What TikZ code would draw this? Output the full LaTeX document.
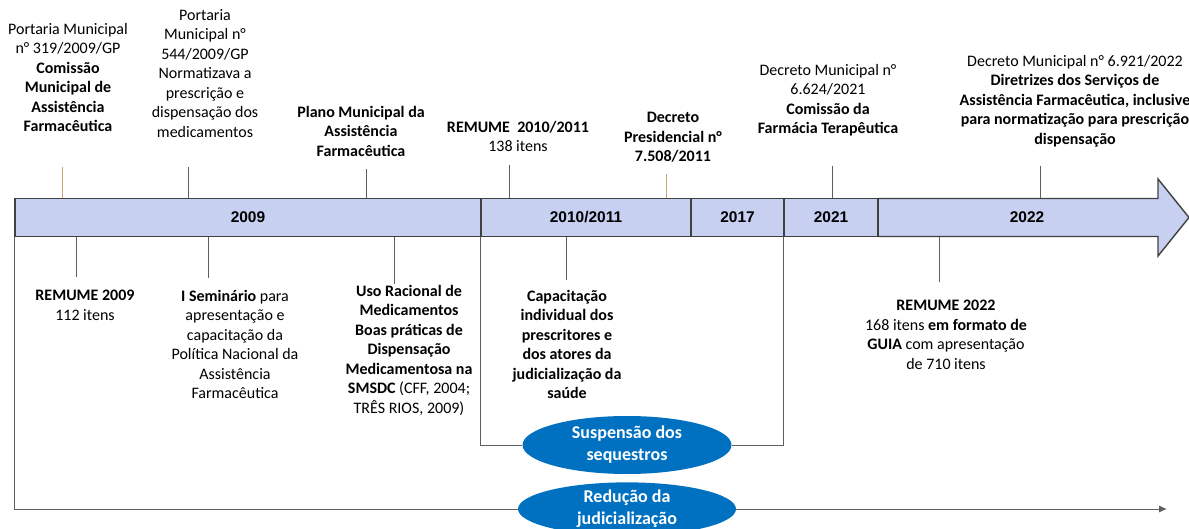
\documentclass[tikz,border=0pt]{standalone}
\usepackage{fontspec}
\setmainfont{Carlito}
\newfontfamily\yearfont{Liberation Sans}
\usetikzlibrary{shapes.geometric, arrows.meta, positioning}

\definecolor{barfill}{RGB}{200,208,242}
\definecolor{baredge}{RGB}{64,64,64}
\definecolor{tickgray}{RGB}{95,95,95}
\definecolor{ticktan}{RGB}{205,165,115}
\definecolor{ovalblue}{RGB}{0,112,192}

\begin{document}
\begin{tikzpicture}[
    x=1pt, y=-1pt,
    seg/.style={rectangle, draw=baredge, line width=1.4pt, fill=barfill, minimum height=38pt, inner sep=0pt, font=\yearfont\bfseries\fontsize{15.5}{18}\selectfont},
    yearlabel/.style={inner sep=0pt, font=\yearfont\bfseries\fontsize{15.5}{18}\selectfont},
    note/.style={align=center, inner sep=0pt, anchor=north, font=\fontsize{16}{19.5}\selectfont},
    tick/.style={draw=tickgray, line width=0.9pt},
    tantick/.style={draw=ticktan, line width=0.9pt},
    oval/.style={ellipse, fill=ovalblue, text=white, align=center, inner sep=0pt, font=\bfseries\fontsize{18}{22}\selectfont},
    bracket/.style={draw=tickgray, line width=0.9pt},
    arrow/.style={bracket, -{Latex[length=8pt, width=7pt]}}
]

\useasboundingbox (0,0) rectangle (1189,529);

% Timeline bar
\path[fill=barfill, draw=baredge, line width=1.4pt]
    (878,198.5) -- (1158,198.5) -- (1158,179) -- (1189,217.5)
    -- (1158,256) -- (1158,236.5) -- (878,236.5) -- cycle;
\node[yearlabel] (y2022) at (1027,217.5) {2022};

\node[seg, minimum width=466pt] (seg2009) at (248,217.5) {2009};
\node[seg, minimum width=210pt] (seg1011) at (586,217.5) {2010/2011};
\node[seg, minimum width=93pt] (seg2017) at (737.5,217.5) {2017};
\node[seg, minimum width=94pt] (seg2021) at (831,217.5) {2021};

% Events above the bar
\node[note] (p319) at (68,23) {Portaria Municipal\\n° 319/2009/GP\\\textbf{Comissão}\\\textbf{Municipal de}\\\textbf{Assistência}\\\textbf{Farmacêutica}};
\node[note] (p544) at (205,9) {Portaria\\Municipal n°\\544/2009/GP\\Normatizava a\\prescrição e\\dispensação dos\\medicamentos};
\node[note, font=\bfseries\fontsize{16}{19.5}\selectfont] (plano) at (361,106) {Plano Municipal da\\Assistência\\Farmacêutica};
\node[note] (rem1011) at (518,121) {\textbf{REMUME\ \ 2010/2011}\\138 itens};
\node[note, font=\bfseries\fontsize{16}{19.5}\selectfont] (decpres) at (673,112) {Decreto\\Presidencial n°\\7.508/2011};
\node[note] (d6624) at (828,64) {Decreto Municipal n°\\6.624/2021\\\textbf{Comissão da}\\\textbf{Farmácia Terapêutica}};
\node[note] (d6921) at (1075,55) {Decreto Municipal n° 6.921/2022\\\textbf{Diretrizes dos Serviços de}\\\textbf{Assistência Farmacêutica, inclusive}\\\textbf{para normatização para prescrição}\\\textbf{dispensação}};

\draw[tantick] (seg2009.north -| 62,0) -- ++(0,-31);
\draw[tick] (seg2009.north -| 188,0) -- ++(0,-31);
\draw[tick] (seg2009.north -| 366,0) -- ++(0,-29);
\draw[tick] (seg1011.north -| 509,0) -- ++(0,-33);
\draw[tantick] (seg1011.north -| 666,0) -- ++(0,-24);
\draw[tick] (seg2021.north -| 832,0) -- ++(0,-32);
\draw[tick] (y2022 |- seg2021.north) ++(13,0) -- ++(0,-32);

% Events below the bar
\node[note] (rem2009) at (85,290) {\textbf{REMUME 2009}\\112 itens};
\node[note] (semin) at (235,290) {\textbf{I Seminário} para\\apresentação e\\capacitação da\\Política Nacional da\\Assistência\\Farmacêutica};
\node[note] (uso) at (409,285) {\textbf{Uso Racional de}\\\textbf{Medicamentos}\\\textbf{Boas práticas de}\\\textbf{Dispensação}\\\textbf{Medicamentosa na}\\\textbf{SMSDC} (CFF, 2004;\\TRÊS RIOS, 2009)};
\node[note, font=\bfseries\fontsize{16}{19.5}\selectfont] (capac) at (567,290) {Capacitação\\individual dos\\prescritores e\\dos atores da\\judicialização da\\saúde};
\node[note] (rem2022) at (946,300) {\textbf{REMUME 2022}\\168 itens \textbf{em formato de}\\\textbf{GUIA} com apresentação\\de 710 itens};

\draw[tick] (seg2009.south -| 76,0) -- ++(0,40);
\draw[tick] (seg2009.south -| 208,0) -- ++(0,41);
\draw[tick] (seg2009.south -| 394,0) -- ++(0,47);
\draw[tick] (seg1011.south -| 566,0) -- ++(0,43);
\draw[tick] (seg2021.south -| 939,0) -- ++(0,45);

% Outcomes
\node[oval, minimum width=209pt, minimum height=58pt] (susp) at (627,445) {Suspensão dos\\sequestros};
\node[oval, minimum width=218pt, minimum height=52pt] (redu) at (627,509) {Redução da\\judicialização};
\coordinate (tlend) at (1167,509);

\draw[bracket] (seg1011.south west) |- (susp.west);
\draw[bracket] (susp.east) -| (seg2021.south west);
\draw[bracket] (seg2009.south west) |- (redu.west);
\draw[arrow] (redu.east) -- (tlend);

\end{tikzpicture}
\end{document}
